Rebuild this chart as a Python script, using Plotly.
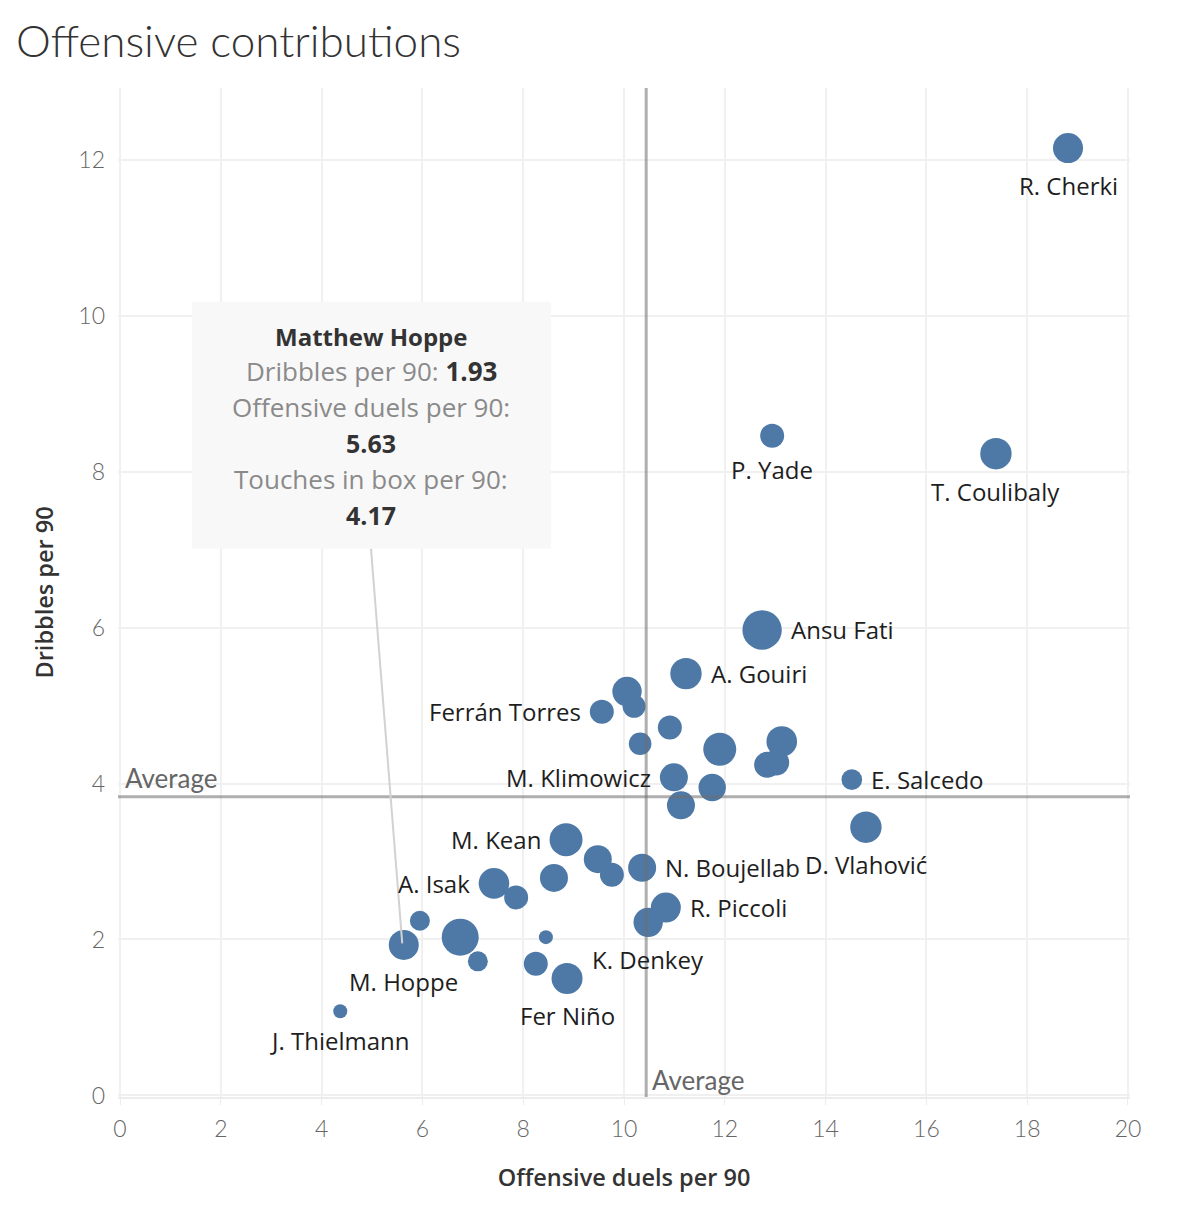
import math
import plotly.graph_objects as go

# ---- data ----
players = ["R. Cherki", "P. Yade", "T. Coulibaly", "Ansu Fati", "A. Gouiri", "Ferrán Torres",
           "", "", "", "", "", "", "", "",
           "M. Klimowicz", "", "E. Salcedo", "", "D. Vlahović", "M. Kean", "", "",
           "N. Boujellab", "", "A. Isak", "", "R. Piccoli", "K. Denkey", "", "", "",
           "M. Hoppe", "", "", "Fer Niño", "J. Thielmann"]
offensive_duels = [18.81, 12.94, 17.38, 12.74, 11.23, 9.56,
                   10.06, 10.20, 10.91, 10.32, 11.90, 13.13, 13.02, 12.84,
                   10.99, 11.75, 14.52, 11.13, 14.80, 8.85, 9.48, 9.76,
                   10.36, 8.61, 7.42, 7.86, 10.83, 10.48, 5.95, 6.75, 8.45,
                   5.63, 7.10, 8.25, 8.87, 4.37]
dribbles = [12.15, 8.46, 8.23, 5.97, 5.41, 4.92,
            5.18, 4.99, 4.72, 4.51, 4.44, 4.54, 4.27, 4.24,
            4.08, 3.95, 4.05, 3.72, 3.44, 3.28, 3.03, 2.83,
            2.92, 2.79, 2.72, 2.54, 2.41, 2.22, 2.24, 2.03, 2.03,
            1.93, 1.72, 1.69, 1.50, 1.08]
touches_in_box = [4.2, 2.67, 4.57, 7.19, 4.57, 2.67,
                  4.0, 2.45, 2.67, 2.37, 5.05, 4.34, 3.13, 3.13,
                  3.63, 3.48, 1.97, 3.63, 4.57, 5.05, 3.63, 2.67,
                  3.63, 3.63, 4.34, 2.67, 4.17, 4.0, 1.85, 6.34, 0.91,
                  4.17, 1.85, 2.67, 4.45, 0.91]
label_side = ["below", "below", "below", "right", "right", "left",
              "", "", "", "", "", "", "", "",
              "left", "", "right", "", "below", "left", "", "",
              "right", "", "left", "", "right", "below", "", "", "",
              "below", "", "", "below", "below"]

avg_duels = 10.44
avg_dribbles = 3.83
x_ticks = [0, 2, 4, 6, 8, 10, 12, 14, 16, 18, 20]
y_ticks = [0, 2, 4, 6, 8, 10, 12]

tooltip_player = "Matthew Hoppe"
tooltip_idx = players.index("M. Hoppe")

BLUE = "#4e79a7"
LABEL_FONT = "Open Sans"
LIGHT_FONT = "Lato"

ref_touch = 4.17
ref_radius = 15.0
sizeref = ref_touch / (2 * ref_radius ** 2)

fig = go.Figure()
fig.add_trace(go.Scatter(
    x=offensive_duels, y=dribbles, mode="markers",
    marker=dict(size=touches_in_box, sizemode="area", sizeref=sizeref,
                color=BLUE, opacity=1, line=dict(width=0)),
    hoverinfo="skip", showlegend=False,
))

annotations = []
# point labels, offset from each mark by its rendered radius
for name, xv, yv, tv, side in zip(players, offensive_duels, dribbles, touches_in_box, label_side):
    if not name:
        continue
    r = math.sqrt(tv / (2 * sizeref))
    a = dict(x=xv, y=yv, xref="x", yref="y", text=name, showarrow=False,
             font=dict(family=LABEL_FONT, size=24, color="#1e1e1e"))
    if side == "below":
        a.update(xanchor="center", yanchor="middle", yshift=-(r + 22))
    elif side == "right":
        a.update(xanchor="left", yanchor="middle", xshift=r + 7)
    else:
        a.update(xanchor="right", yanchor="middle", xshift=-(r + 7))
    annotations.append(a)

shapes = [
    dict(type="line", xref="x", yref="paper", x0=avg_duels, x1=avg_duels, y0=0, y1=1,
         line=dict(color="rgba(110,110,110,0.55)", width=3), layer="above"),
    dict(type="line", xref="paper", yref="y", x0=0, x1=1, y0=avg_dribbles, y1=avg_dribbles,
         line=dict(color="rgba(110,110,110,0.55)", width=3), layer="above"),
    # tooltip box
    dict(type="rect", xref="x", yref="y", x0=1.43, x1=8.55, y0=7.01, y1=10.18,
         fillcolor="#f8f8f8", line=dict(width=0), layer="above"),
    # tooltip connector
    dict(type="line", xref="x", yref="y", x0=4.98, y0=7.01,
         x1=offensive_duels[tooltip_idx] - 0.03, y1=dribbles[tooltip_idx] + 0.02,
         line=dict(color="#d2d2d2", width=2), layer="above"),
]

grey = "#8a8a8a"
dark = "#333333"
tip_lines = [
    (9.73, f"<b>{tooltip_player}</b>", dark, 24),
    (9.29, f"<span style='color:{grey}'>Dribbles per 90: </span><b>{dribbles[tooltip_idx]:.2f}</b>", dark, 26),
    (8.83, "Offensive duels per 90:", grey, 26),
    (8.37, f"<b>{offensive_duels[tooltip_idx]:.2f}</b>", dark, 25),
    (7.91, "Touches in box per 90:", grey, 26),
    (7.45, f"<b>{touches_in_box[tooltip_idx]:.2f}</b>", dark, 25),
]
for yy, txt, col, fs in tip_lines:
    annotations.append(dict(x=4.98, y=yy, xref="x", yref="y", text=txt, showarrow=False,
                            font=dict(family=LABEL_FONT, size=fs, color=col),
                            xanchor="center", yanchor="middle"))

annotations.append(dict(x=0, y=avg_dribbles, xref="paper", yref="y", text="Average",
                        showarrow=False, xanchor="left", yanchor="bottom", xshift=5, yshift=1,
                        font=dict(family=LIGHT_FONT, size=26, color="#666666")))
annotations.append(dict(x=avg_duels, y=0.017, xref="x", yref="paper", text="Average",
                        showarrow=False, xanchor="left", yanchor="middle", xshift=4,
                        font=dict(family=LIGHT_FONT, size=26, color="#666666")))

fig.update_layout(
    width=1186, height=1204,
    margin=dict(l=110, r=64, t=80, b=115, autoexpand=False),
    paper_bgcolor="white", plot_bgcolor="white",
    title=dict(text="Offensive contributions", x=0.0068, xanchor="left", y=0.972, yanchor="middle",
               font=dict(family=LIGHT_FONT, size=44, color="#333333", weight=300)),
    shapes=shapes, annotations=annotations,
    xaxis=dict(range=[-0.04, 20.04], tickvals=x_ticks, showgrid=True, gridcolor="#f0f0f0", gridwidth=1.5,
               zeroline=False, showline=True, linecolor="#ececec", linewidth=1.5, automargin=False,
               ticks="outside", ticklen=6, tickcolor="#ececec", ticklabelstandoff=5,
               tickfont=dict(family=LIGHT_FONT, size=23, color="#666666", weight=300),
               title=dict(text="Offensive duels per 90", standoff=28,
                          font=dict(family=LABEL_FONT, size=23.5, color="#333333", weight=600))),
    yaxis=dict(range=[-0.02, 12.92], tickvals=y_ticks, showgrid=True, gridcolor="#f0f0f0", gridwidth=1.5,
               zeroline=False, showline=False, ticks="", ticklabelstandoff=12, automargin=False,
               tickfont=dict(family=LIGHT_FONT, size=23, color="#666666", weight=300),
               title=dict(text="Dribbles per 90", standoff=18,
                          font=dict(family=LABEL_FONT, size=23.5, color="#333333", weight=600))),
)

fig.write_html("out.html")
